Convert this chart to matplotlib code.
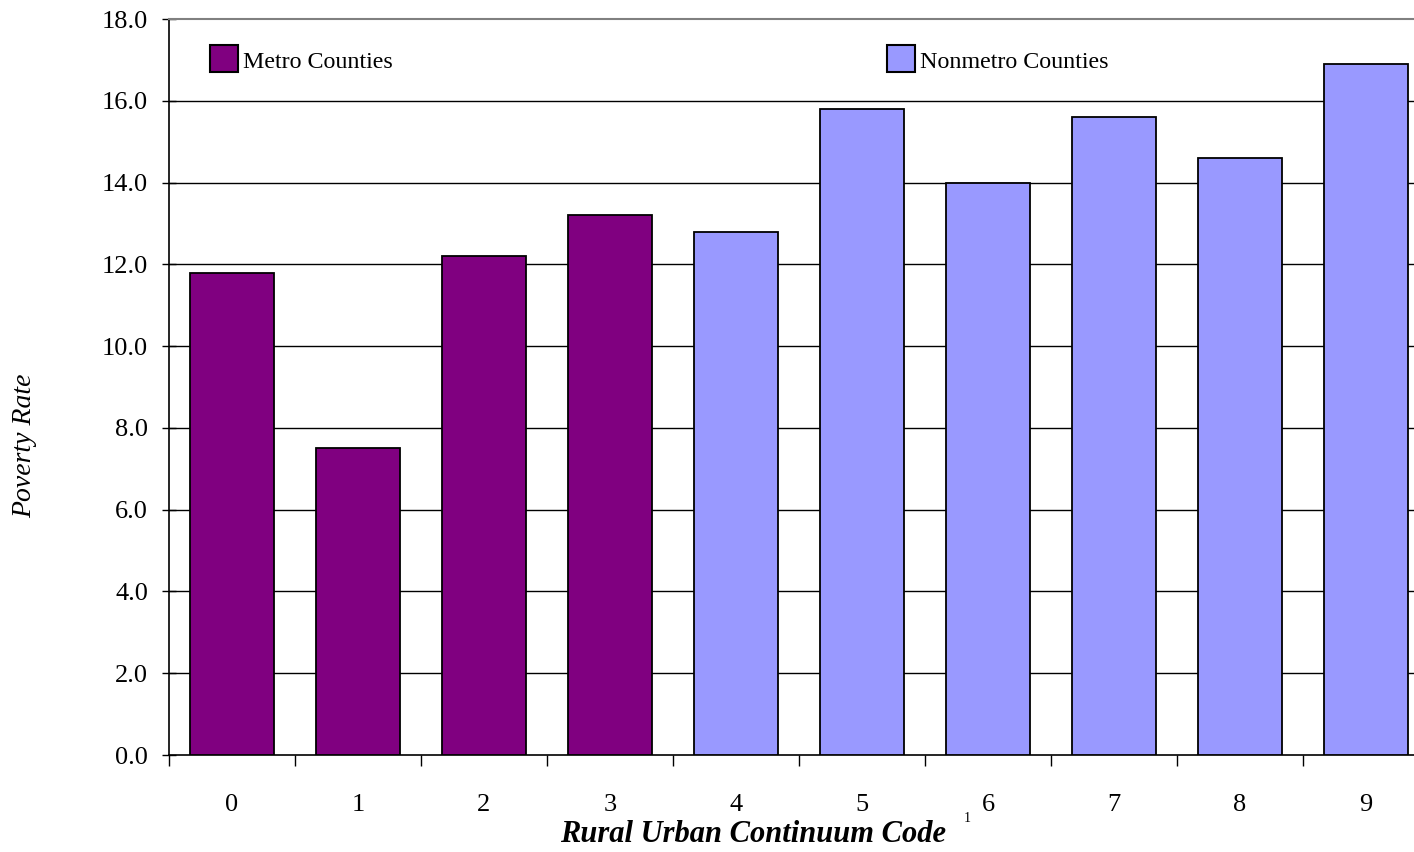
import matplotlib.pyplot as plt

# --- data ---
codes = ["0", "1", "2", "3", "4", "5", "6", "7", "8", "9"]
poverty_rate = [11.8, 7.5, 12.2, 13.2, 12.8, 15.8, 14.0, 15.6, 14.6, 16.9]
group = ["metro"] * 4 + ["nonmetro"] * 6
yticks = [0, 2, 4, 6, 8, 10, 12, 14, 16, 18]

colors = {"metro": "#800080", "nonmetro": "#9999FF"}
labels = {"metro": "Metro Counties", "nonmetro": "Nonmetro Counties"}

plt.rcParams['font.family'] = ['Liberation Serif', 'DejaVu Serif']

W, H = 1414, 852
fig = plt.figure(figsize=(W / 100, H / 100), dpi=100)
# axes extends a bit beyond the right edge, like the original
left, right, top, bottom = 169, 1429, 19, 755
ax = fig.add_axes([left / W, 1 - bottom / H, (right - left) / W, (bottom - top) / H])

x = list(range(len(codes)))
ax.bar(x, poverty_rate, width=0.66,
       color=[colors[g] for g in group], edgecolor="black", linewidth=1.3, zorder=3)

ax.set_xlim(-0.5, len(codes) - 0.5)
ax.set_ylim(0, 18)
ax.set_yticks(yticks)
ax.set_yticklabels([f"{v:.1f}" for v in yticks], fontsize=19)
ax.set_xticks(x)
ax.set_xticklabels(codes, fontsize=19)
ax.tick_params(axis="x", length=0, pad=28)
ax.set_xticks([i - 0.5 for i in range(1, len(codes) + 1)] + [-0.5], minor=True)
ax.tick_params(axis="x", which="minor", length=8, width=1, direction="out")
ax.tick_params(axis="y", length=10, width=1, direction="inout", pad=10)

for v in yticks[1:-1]:
    ax.axhline(v, color="black", linewidth=1, zorder=1)

ax.spines["top"].set_color("#808080")
ax.spines["top"].set_linewidth(1.5)
ax.spines["right"].set_visible(False)
ax.spines["left"].set_linewidth(1.2)
ax.spines["bottom"].set_linewidth(1.2)

# legend drawn as patches + text in pixel coords
def legend_item(px, py, key):
    fig.patches.append(plt.Rectangle((px / W, 1 - (py + 27) / H), 28 / W, 27 / H,
                                     transform=fig.transFigure, facecolor=colors[key],
                                     edgecolor="black", linewidth=1.5))
    fig.text((px + 33) / W, 1 - (py + 18) / H, labels[key], fontsize=17.3,
             va="center", ha="left")

legend_item(210, 45, "metro")
legend_item(887, 45, "nonmetro")

fig.text(25 / W, 1 - 446 / H, "Poverty Rate", rotation=90, fontsize=20,
         style="italic", ha="center", va="center")

xl = fig.text(560 / W, 1 - 835 / H, "Rural Urban Continuum Code", fontsize=22,
              style="italic", weight="bold", ha="left", va="center")
fig.canvas.draw()
bb = xl.get_window_extent()
fig.text((bb.x1 + 18) / W, 1 - 818 / H, "1", fontsize=10, ha="left", va="center")

fig.savefig("out.png", dpi=100)
